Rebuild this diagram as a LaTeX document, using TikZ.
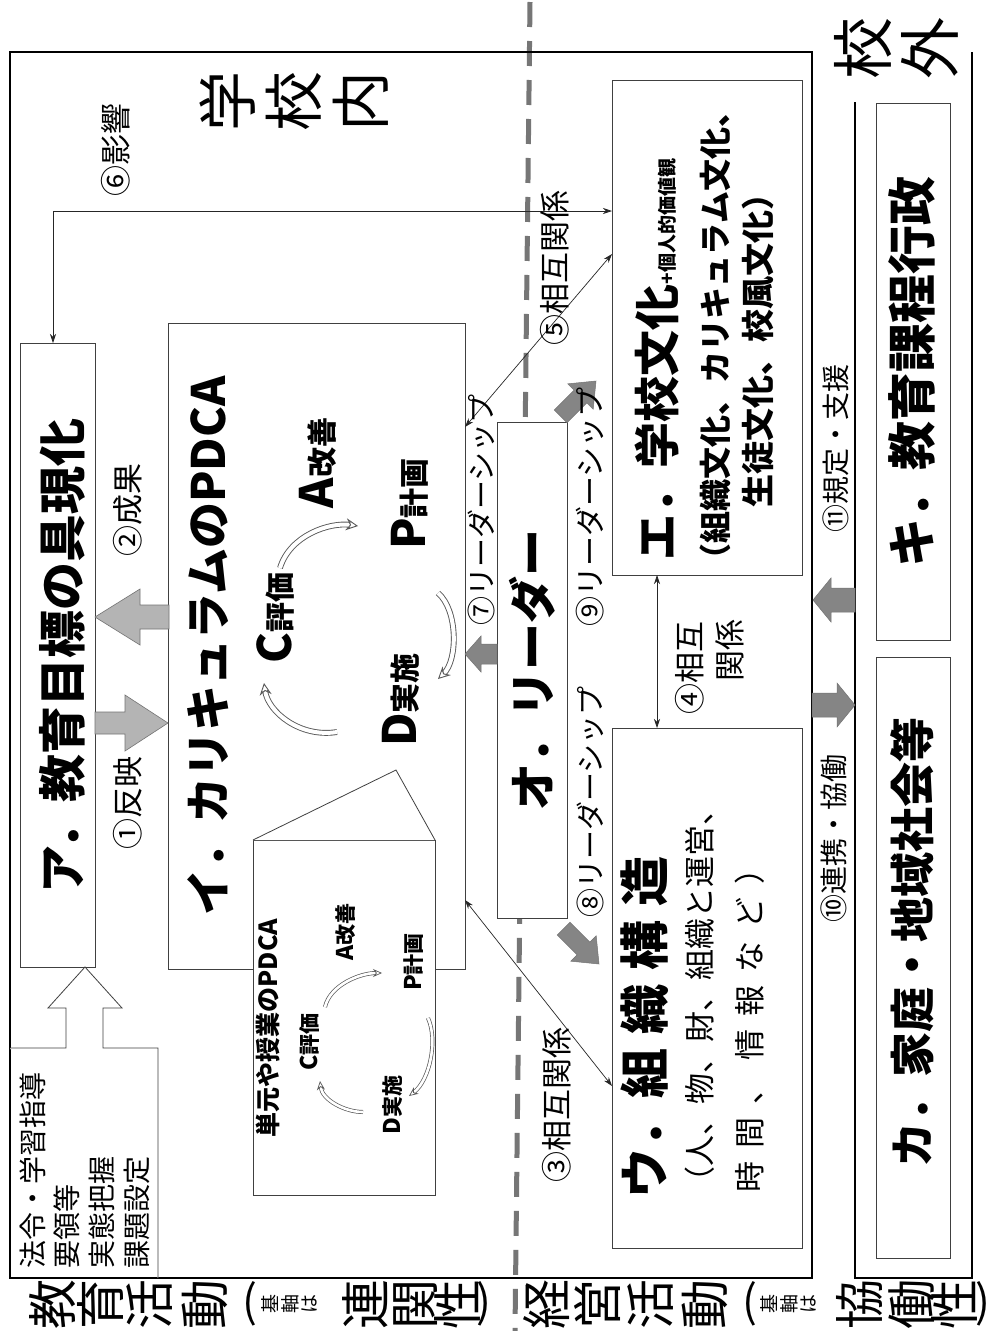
\documentclass[tikz,border=0pt]{standalone}
\usepackage{fontspec}
\setmainfont{Noto Sans CJK JP}
\usetikzlibrary{arrows.meta}
\newcommand\fsz[1]{\fontsize{#1}{#1}\selectfont}
\definecolor{boxline}{HTML}{404040}
\definecolor{lightarrow}{HTML}{B4B4B4}
\definecolor{darkarrow}{HTML}{858585}
\definecolor{dashgray}{HTML}{767676}
\newcommand\barrow[8]{%
  \begin{scope}[shift={(#1,#2)},rotate=#3]
    \filldraw[#8] (0,0) -- (-#5,#6) -- (-#5,#7) -- (-#4,#7) -- (-#4,-#7) -- (-#5,-#7) -- (-#5,-#6) -- cycle;
  \end{scope}}
\tikzset{
  box/.style={draw=boxline, line width=0.8pt, fill=white, rectangle, inner sep=0pt, outer sep=0pt},
  t/.style={rotate=90, inner sep=0pt, outer sep=0pt},
  rel/.style={draw=black!85, line width=0.7pt, {Stealth[length=9pt,width=6pt]}-{Stealth[length=9pt,width=6pt]}},
  lightba/.style={fill=lightarrow, draw=black!55, line width=0.6pt},
  darkba/.style={fill=darkarrow, draw=black!55, line width=0.5pt},
  pdca/.style={draw=black!65, double=white, double distance=4pt, line width=0.9pt, -{Stealth[length=12pt,width=12pt,open]}},
  pdcas/.style={draw=black!65, double=white, double distance=2.6pt, line width=0.7pt, -{Stealth[length=9pt,width=8pt,open]}},
  vch/.style={rotate=90, inner sep=0pt}
}
\begin{document}
\begin{tikzpicture}[x=1pt,y=-1pt]
\fill[white] (0,0) rectangle (990,1331);
\useasboundingbox (0,0) rectangle (990,1331);

% dashed divider
\draw[dashgray, line width=5pt, dash pattern=on 25pt off 14pt] (530,2) -- (515,1331);

% outer school box
\node[draw=black, line width=1.6pt, minimum width=802pt, minimum height=1226pt, inner sep=0pt] (school) at (411,665) {};
% outside bracket
\draw[black, line width=1.3pt] (855,102) -- (855,1278) -- (972,1278) -- (972,52);

% boxes
\node[box, minimum width=75pt, minimum height=624pt] (A) at (57.5,655) {};
\node[box, minimum width=297pt, minimum height=646pt] (I) at (316.5,646) {};
\node[box, minimum width=70pt, minimum height=496pt] (O) at (532,670) {};
\node[box, minimum width=190pt, minimum height=495pt] (E) at (707,327.5) {};
\node[box, minimum width=190pt, minimum height=520pt] (U) at (707,988) {};
\node[box, minimum width=74pt, minimum height=537pt] (K) at (913,371.5) {};
\node[box, minimum width=74pt, minimum height=601pt] (Ka) at (913,957.5) {};

% small PDCA box with callout
\coordinate (apex) at (396,770);
\node[box, minimum width=182pt, minimum height=355pt] (S) at (344,1017.5) {};
\filldraw[fill=white, draw=boxline, line width=0.8pt] (S.north west) -- (apex) -- (S.north east);

% law box with hollow arrow
\coordinate (lawtip) at (85,967);
\filldraw[fill=white, draw=boxline, line width=0.8pt]
  (10,1048) -- (66,1048) -- (66,1008) -- (48,1008) -- (A.south -| lawtip) -- (122,1008) -- (103,1008) -- (103,1048) -- (158,1048) -- (158,1278);

% relation connectors
\coordinate (c6) at (53,211);
\draw[rel] (A.north -| c6) |- (E.west |- c6);
\draw[rel] (I.east |- 0,427) -- (E.west |- 0,254);
\draw[rel] (I.east |- 0,900) -- (U.west |- 0,1086);
\draw[rel] (E.south -| 657,0) -- (U.north -| 657,0);

% block arrows
\barrow{95}{617}{180}{74}{45}{28}{12}{lightba}
\barrow{168}{723}{0}{73}{43}{28}{11}{lightba}
\barrow{465}{654}{180}{32}{16}{18}{10}{darkba}
\barrow{596}{381}{45}{50}{22}{18}{9}{darkba}
\barrow{599}{964}{-45}{50}{22}{18}{9}{darkba}
\barrow{813}{600}{180}{42}{18}{22}{12}{darkba}
\barrow{855}{705}{0}{43}{18}{22}{12}{darkba}

% PDCA cycle arrows (large)
\draw[pdca] (280,568) .. controls (290,535) and (330,522) .. (358,526);
\draw[pdca] (438,593) .. controls (458,610) and (458,660) .. (438,679);
\draw[pdca] (337,732) .. controls (300,738) and (268,712) .. (264,683);
% PDCA cycle arrows (small)
\draw[pdcas] (325,1007) .. controls (330,985) and (360,973) .. (382,973);
\draw[pdcas] (428,1018) .. controls (438,1040) and (430,1080) .. (409,1096);
\draw[pdcas] (363,1112) .. controls (345,1112) and (322,1100) .. (320,1081);

% titles
\node[t, font=\fsz{48}\bfseries] (tA) at (62,656) {ア．教育目標の具現化};
\node[t, font=\fsz{46}\bfseries] (tI) at (208,646) {イ．カリキュラムのPDCA};
\node[t, font=\fsz{47}\bfseries] (tO) at (532,670) {オ．リーダー};
\node[t, font=\fsz{46}\bfseries, anchor=west] (tE) at (657,560) {エ．学校文化{\fsz{19}+個人的価値観}};
\node[t, font=\fsz{32}\bfseries, anchor=west] (tE2) at (715,575) {（組織文化、カリキュラム文化、};
\node[t, font=\fsz{33}\bfseries, anchor=west] (tE3) at (758,507) {生徒文化、校風文化）};
\node[t, font=\fsz{50}\bfseries, anchor=west] (tU) at (645,1198) {ウ．組\hspace{14pt}織\hspace{14pt}構\hspace{14pt}造};
\node[t, font=\fsz{31}, anchor=west] (tU2) at (700,1197) {（人、物、財、組織と運営、};
\node[t, font=\fsz{31}, anchor=west] (tU3) at (750,1192) {時\hspace{13pt}間\hspace{13pt}、\hspace{13pt}情\hspace{13pt}報\hspace{13pt}な\hspace{13pt}ど\hspace{13pt}）};
\node[t, font=\fsz{49}\bfseries] (tK) at (912,372) {キ．教育課程行政};
\node[t, font=\fsz{45}\bfseries] (tKa) at (912,942) {カ．家庭・地域社会等};

% PDCA labels (large)
\node[t] at (318,463) {{\fsz{46}\bfseries A}{\fsz{30}\bfseries 改善}};
\node[t] at (410,504) {{\fsz{46}\bfseries P}{\fsz{30}\bfseries 計画}};
\node[t] at (275,618) {{\fsz{46}\bfseries C}{\fsz{30}\bfseries 評価}};
\node[t] at (401,700) {{\fsz{46}\bfseries D}{\fsz{30}\bfseries 実施}};
% PDCA labels (small)
\node[t, font=\fsz{25}\bfseries] at (268,1028) {単元や授業のPDCA};
\node[t] at (346,932) {{\fsz{23}\bfseries A}{\fsz{21}\bfseries 改善}};
\node[t] at (414,962) {{\fsz{23}\bfseries P}{\fsz{21}\bfseries 計画}};
\node[t] at (310,1042) {{\fsz{23}\bfseries C}{\fsz{21}\bfseries 評価}};
\node[t] at (393,1105) {{\fsz{23}\bfseries D}{\fsz{21}\bfseries 実施}};

% law box text
\node[t, font=\fsz{28}, anchor=west] at (33,1268) {法令・学習指導};
\node[t, font=\fsz{28}, anchor=west] at (67,1268) {要領等};
\node[t, font=\fsz{28}, anchor=west] at (102,1268) {実態把握};
\node[t, font=\fsz{28}, anchor=west] at (137,1268) {課題設定};

% connector labels
\node[t, font=\fsz{31}] at (116,150) {⑥影響};
\node[t, font=\fsz{31}] at (128,510) {②成果};
\node[t, font=\fsz{31}] at (128,803) {①反映};
\node[t, font=\fsz{31}] at (555,268) {⑤相互関係};
\node[t, font=\fsz{31}] at (557,1105) {③相互関係};
\node[t, font=\fsz{29}] at (481,510) {⑦リーダーシップ};
\node[t, font=\fsz{30}] at (590,507) {⑨リーダーシップ};
\node[t, font=\fsz{29}] at (590,802) {⑧リーダーシップ};
\node[t, font=\fsz{31}, anchor=east] at (690,621) {④相互};
\node[t, font=\fsz{31}, anchor=east] at (730,619) {関係};
\node[t, font=\fsz{28}] at (836,448) {⑪規定・支援};
\node[t, font=\fsz{28}] at (834,838) {⑩連携・協働};

% region labels (vertical writing, rotated)
\foreach \xx/\ch in {228/学, 294/校, 361/内} \node[vch, font=\fsz{60}] at (\xx,101) {\ch};
\foreach \xx/\ch in {863/校, 930/外} \node[vch, font=\fsz{62}] at (\xx,48) {\ch};
\foreach \xx/\ch in {53/教, 100/育, 150/活, 205/動, 365/連, 416/関, 457/性} \node[vch, font=\fsz{50}] at (\xx,1304) {\ch};
\foreach \xx/\ch in {270/基, 290/軸, 310/は} \node[vch, font=\fsz{19}] at (\xx,1304) {\ch};
\node[font=\fsz{44}] at (250,1304) {(};
\node[font=\fsz{44}] at (484,1304) {)};
\foreach \xx/\ch in {547/経, 597/営, 651/活, 705/動, 860/協, 912/働, 954/性} \node[vch, font=\fsz{50}] at (\xx,1304) {\ch};
\foreach \xx/\ch in {769/基, 789/軸, 809/は} \node[vch, font=\fsz{19}] at (\xx,1304) {\ch};
\node[font=\fsz{44}] at (750,1304) {(};
\node[font=\fsz{44}] at (983,1304) {)};
\end{tikzpicture}
\end{document}
